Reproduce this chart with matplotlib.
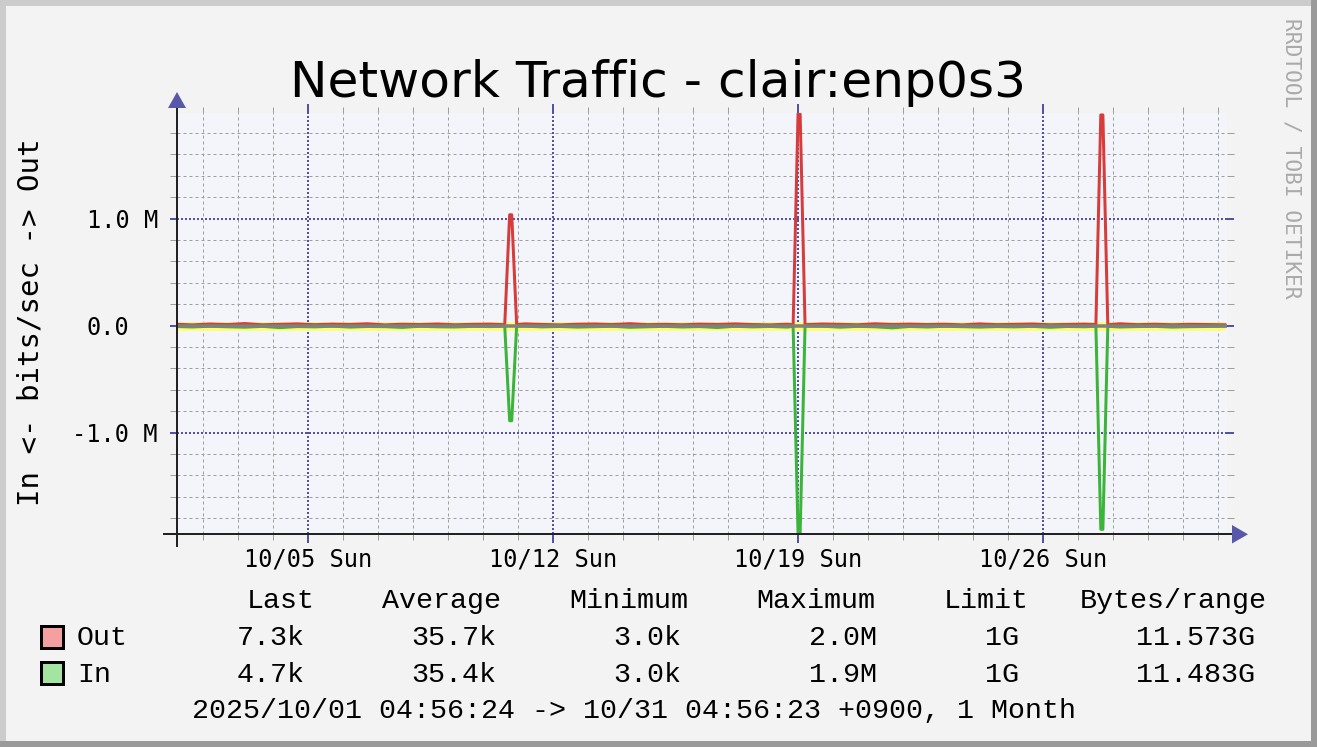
import numpy as np
import matplotlib
matplotlib.use("Agg")
import matplotlib.pyplot as plt
from matplotlib.patches import Rectangle, Polygon
from matplotlib.transforms import ScaledTranslation

W, H = 1317, 747
DPI = 100

# ---------------- data ----------------
title = "Network Traffic - clair:enp0s3"
y_label = "In <- bits/sec -> Out"
watermark = "RRDTOOL / TOBI OETIKER"

# sample times: days since 2025-10-01 00:00 (first sample 04:56, every 12 h)
base_days = np.arange(0.206, 30.21, 0.5)
out_base_k = [12, 6, 14, 9, 18, 7, 11, 15, 8, 13,
              10, 16, 6, 12, 9, 14, 7, 11, 13, 8,
              15, 10, 6, 12, 14, 9, 17, 8, 11, 7,
              13, 10, 15, 9, 6, 12, 8, 14, 11, 7,
              16, 10, 13, 9, 12, 6, 15, 8, 11, 14,
              7, 10, 13, 9, 16, 8, 12, 7, 11, 9,
              7]
in_base_k = [9, 14, 7, 12, 16, 8, 20, 10, 13, 6,
             15, 9, 11, 18, 7, 12, 14, 8, 10, 16,
             6, 13, 9, 15, 11, 7, 17, 12, 8, 14,
             10, 19, 7, 13, 9, 15, 11, 6, 16, 8,
             12, 22, 9, 14, 7, 11, 15, 10, 13, 8,
             17, 9, 12, 6, 14, 10, 8, 15, 11, 9,
             5]

spike_days = [[9.63, 9.77, 9.83, 9.97],
              [17.87, 18.01, 18.07, 18.21],
              [26.52, 26.66, 26.72, 26.86]]
spike_out_k = [[8, 1035, 1035, 9], [7, 1978, 1978, 8], [9, 1968, 1968, 7]]
spike_in_k = [[6, 890, 890, 7], [8, 1945, 1945, 6], [7, 1905, 1905, 8]]

x_major_days = [4, 11, 18, 25]
x_major_labels = ["10/05 Sun", "10/12 Sun", "10/19 Sun", "10/26 Sun"]
x_minor_days = list(range(1, 31))
y_major = [-1.0e6, 0.0, 1.0e6]
y_major_labels = ["-1.0 M", "0.0", "1.0 M"]
y_minor = list(np.arange(-1.8e6, 1.81e6, 0.2e6))

legend_names = ["Out", "In"]
legend_cols = ["Last", "Average", "Minimum", "Maximum", "Limit", "Bytes/range"]
out_stats = ["7.3k", "35.7k", "3.0k", "2.0M", "1G", "11.573G"]
in_stats = ["4.7k", "35.4k", "3.0k", "1.9M", "1G", "11.483G"]
footer = "2025/10/01 04:56:24 -> 10/31 04:56:23 +0900, 1 Month"

# ---------------- styles ----------------
CANVAS = "#f3f3f3"
PLOTBG = "#f4f5fa"
MAJ = "#5252a6"
MIN = "#9e9e9e"
RED = "#d63c3c"
GREEN = "#3cb43c"
ARROW = "#5858aa"
PX = 0.72  # points per pixel at 100 dpi

plt.rcParams["lines.scale_dashes"] = False
plt.rcParams["font.family"] = ["DejaVu Sans Mono"]


def merge(bd, bv, sd, sv):
    pts = []
    for ti, vi in zip(bd, bv):
        if any(s[0] <= ti <= s[-1] for s in sd):
            continue
        pts.append((ti, vi))
    for s_t, s_v in zip(sd, sv):
        pts += list(zip(s_t, s_v))
    pts.sort()
    return np.array([p[0] for p in pts]), np.array([p[1] for p in pts], float) * 1000.0


t_out, v_out = merge(base_days, out_base_k, spike_days, spike_out_k)
t_in, v_in = merge(base_days, in_base_k, spike_days, spike_in_k)

fig = plt.figure(figsize=(W / DPI, H / DPI), dpi=DPI)
fig.patch.set_facecolor(CANVAS)


def fx(x):
    return x / W


def fy(y):
    return 1 - y / H


# frame bevel
fig.add_artist(Rectangle((0, fy(6)), 1, 6 / H, transform=fig.transFigure, color="#cccccc", lw=0))
fig.add_artist(Rectangle((0, 0), 6 / W, 1, transform=fig.transFigure, color="#cccccc", lw=0))
fig.add_artist(Rectangle((fx(1311), 0), 6 / W, 1, transform=fig.transFigure, color="#9a9a9a", lw=0))
fig.add_artist(Rectangle((0, 0), 1, 6 / H, transform=fig.transFigure, color="#9a9a9a", lw=0))

L, R, T, B = 177, 1227, 113, 534.3
ax = fig.add_axes([fx(L), fy(B), (R - L) / W, (B - T) / H])
ax.set_facecolor(PLOTBG)
zero_px = 325.5
m_px = 107.0
ax.set_ylim(-(B - zero_px) / m_px * 1e6, (zero_px - T) / m_px * 1e6)
ax.set_xlim(0.266, 30.266)

# grid
for d in x_minor_days:
    if d in x_major_days:
        continue
    ax.axvline(d, color=MIN, lw=1 * PX, ls=(0, (3 * PX, 3 * PX)), zorder=0.5)
for y in y_minor:
    if any(abs(y - m) < 1 for m in y_major):
        continue
    ax.axhline(y, color=MIN, lw=1 * PX, ls=(0, (3 * PX, 3 * PX)), zorder=0.5)
for d in x_major_days:
    ax.axvline(d, color=MAJ, lw=2 * PX, ls=(0, (2 * PX, 2 * PX)), zorder=0.6)
for y in y_major:
    ax.axhline(y, color=MAJ, lw=2 * PX, ls=(0, (2 * PX, 2 * PX)), zorder=0.6)

# data
ax.plot(base_days, np.zeros(len(base_days)), color="#ffff66", lw=8.5 * PX, zorder=1, solid_capstyle="butt")
ax.plot(t_out, v_out, color=RED, lw=3 * PX, zorder=2)
ax.plot(t_in, -v_in, color=GREEN, lw=3 * PX, zorder=2)
ax.axhline(0, color="#808080", lw=3.5 * PX, zorder=3)

# ticks
for s in ax.spines.values():
    s.set_visible(False)
ax.set_xticks(x_major_days)
ax.set_xticklabels(x_major_labels)
ax.set_xticks([d for d in x_minor_days if d not in x_major_days], minor=True)
ax.set_yticks(y_major)
ax.set_yticklabels(y_major_labels)
ax.set_yticks([y for y in y_minor if all(abs(y - m) > 1 for m in y_major)], minor=True)
ax.tick_params(axis="x", which="major", direction="out", length=9 * PX, width=2 * PX,
               color=MAJ, labelsize=17, pad=4 * PX, top=True)
ax.tick_params(axis="x", which="minor", direction="out", length=6 * PX, width=1 * PX,
               color=MIN, top=True)
ax.tick_params(axis="y", which="major", direction="out", length=7 * PX, width=2 * PX,
               color=MAJ, labelsize=17, pad=12 * PX, right=True)
ax.tick_params(axis="y", which="minor", direction="out", length=7 * PX, width=1 * PX,
               color=MIN, right=True)
for lab in ax.get_yticklabels():
    if lab.get_text() == "0.0":
        lab.set_transform(lab.get_transform() + ScaledTranslation(-0.29, 0, fig.dpi_scale_trans))

# axis lines + arrows
axw, axh = R - L, B - T
ax.plot([0, 0], [-(546 - B) / axh, 1 + (T - 106) / axh], transform=ax.transAxes,
        color="#222222", lw=2 * PX, clip_on=False, zorder=5)
ax.plot([-(L - 164) / axw, 1 + (1234 - R) / axw], [0, 0], transform=ax.transAxes,
        color="#222222", lw=2 * PX, clip_on=False, zorder=5)
fig.add_artist(Polygon([[fx(168), fy(108)], [fx(186), fy(108)], [fx(177), fy(92)]],
                       closed=True, transform=fig.transFigure, color=ARROW, lw=0))
fig.add_artist(Polygon([[fx(1232), fy(525)], [fx(1232), fy(543.5)], [fx(1248), fy(534.3)]],
                       closed=True, transform=fig.transFigure, color=ARROW, lw=0))

# texts
fig.text(fx(657.5), fy(97), title, family="DejaVu Sans", fontsize=36.2, ha="center", va="baseline",
         color="#000000")
fig.text(fx(31), fy(322.5), y_label, family="DejaVu Sans Mono", fontsize=21, rotation=90,
         ha="center", va="center")
fig.text(fx(1292), fy(158), watermark, family="DejaVu Sans Mono", fontsize=15.3, rotation=270,
         ha="center", va="center", color="#aaaaaa")

LEG = "Liberation Mono"
LFS = 20.4
head_left = [247, 382, 569, 756, 944, 1080]
val_right = [305, 496, 681, 877, 1019, 1255]
for name, xl in zip(legend_cols, head_left):
    fig.text(fx(xl), fy(608.3), name, family=LEG, fontsize=LFS, ha="left", va="baseline")
rows = [(out_stats, 645, "#f4a0a0", 626), (in_stats, 681.7, "#a2e4a0", 662)]
for (stats, yb, col, ys), name in zip(rows, legend_names):
    fig.add_artist(Rectangle((fx(41), fy(ys + 22)), 22 / W, 22 / H, transform=fig.transFigure,
                             facecolor=col, edgecolor="black", lw=3 * PX))
    fig.text(fx(77), fy(yb), name, family=LEG, fontsize=LFS, ha="left", va="baseline")
    for s, xr in zip(stats, val_right):
        fig.text(fx(xr), fy(yb), s, family=LEG, fontsize=LFS, ha="right", va="baseline")
fig.text(fx(192), fy(717.7), footer, family=LEG, fontsize=LFS, ha="left", va="baseline")

fig.savefig("out.png", dpi=DPI, facecolor=CANVAS)
